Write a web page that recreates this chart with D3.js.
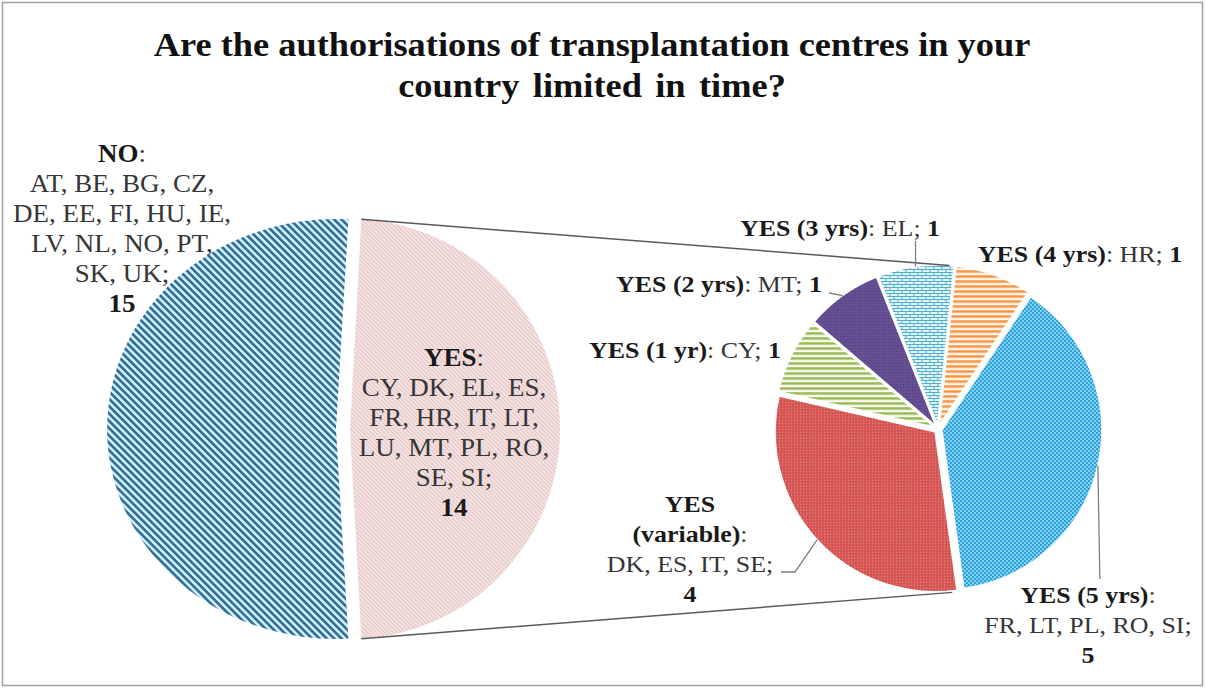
<!DOCTYPE html>
<html>
<head>
<meta charset="utf-8">
<script src="https://d3js.org/d3.v7.min.js"></script>
<style>
  body { margin: 0; background: #fff; }
  text { font-family: "Liberation Serif", "Times New Roman", serif; }
</style>
</head>
<body>
<script>

// data
var titleLines = ["Are the authorisations of transplantation centres in your", "country limited in time?"];

var mainCategories = ["NO", "YES"];
var mainValues = [15, 14];
var mainCountries = [
  ["AT", "BE", "BG", "CZ", "DE", "EE", "FI", "HU", "IE", "LV", "NL", "NO", "PT", "SK", "UK"],
  ["CY", "DK", "EL", "ES", "FR", "HR", "IT", "LT", "LU", "MT", "PL", "RO", "SE", "SI"]
];

var subCategories = ["1 yr", "2 yrs", "3 yrs", "4 yrs", "5 yrs", "variable"];
var subValues = [1, 1, 1, 1, 5, 4];
var subCountries = [["CY"], ["MT"], ["EL"], ["HR"], ["FR", "LT", "PL", "RO", "SI"], ["DK", "ES", "IT", "SE"]];

var width = 1205;
var height = 688;
var deg = Math.PI / 180;

var svg = d3.select("body").append("svg")
    .attr("width", width)
    .attr("height", height);

svg.append("rect")
    .attr("x", 2.5).attr("y", 2.5)
    .attr("width", width - 5).attr("height", height - 5)
    .attr("fill", "#fff")
    .attr("stroke", "#a0a0a0")
    .attr("stroke-width", 1.5);

// ---- patterns (excel style fills)
var defs = svg.append("defs");
var noStretch = 1.09;

function pattern(id, w, h, bg, tf) {
  var p = defs.append("pattern")
      .attr("id", id)
      .attr("patternUnits", "userSpaceOnUse")
      .attr("width", w).attr("height", h);
  if (tf) p.attr("patternTransform", tf);
  p.append("rect").attr("width", w).attr("height", h).attr("fill", bg);
  return p;
}

pattern("pNo", 5.2, 5.2, "#d3edf6", "scale(" + (1 / noStretch) + ",1) rotate(-45)")
  .append("rect").attr("width", 2.6).attr("height", 5.2).attr("fill", "#2f6f98");
pattern("pYes", 3, 3, "#f5e2e1", "rotate(-45)")
  .append("rect").attr("width", 1).attr("height", 3).attr("fill", "#dfc6c5");

pattern("p1", 5, 5, "#fbfdf4").append("rect").attr("width", 5).attr("height", 2.6).attr("fill", "#9bbb59");
var p2 = pattern("p2", 3, 3, "#6a5397");
p2.append("rect").attr("width", 1.5).attr("height", 1.5).attr("fill", "#4e3b79");
pattern("p3", 8, 6, "#e7f6fc").append("path")
    .attr("d", "M0,0.5H8M0,3.5H8M0.5,0V3.5M4.5,3.5V6")
    .attr("stroke", "#4bacc6").attr("stroke-width", 1).attr("fill", "none");
pattern("p4", 5, 5, "#fff8f1").append("rect").attr("width", 5).attr("height", 2.6).attr("fill", "#f79646");
var p5 = pattern("p5", 4, 4, "#7fdcf8");
p5.append("rect").attr("width", 2).attr("height", 2).attr("fill", "#2f95d4");
p5.append("rect").attr("x", 2).attr("y", 2).attr("width", 2).attr("height", 2).attr("fill", "#2f95d4");
var p6 = pattern("p6", 3, 3, "#d4524f");
p6.append("rect").attr("width", 1.2).attr("height", 1.2).attr("fill", "#e8928e");

var mainFills = ["url(#pNo)", "url(#pYes)"];
var subFills = ["url(#p1)", "url(#p2)", "url(#p3)", "url(#p4)", "url(#p5)", "url(#p6)"];

// ---- main pie
var mainCx = 343, mainCy = 429, mainR = 210, mainExplode = 7;
var total = d3.sum(mainValues);
// "other" slice (YES) centred on the right side
var mainStart = Math.PI / 2 + Math.PI * mainValues[1] / total;
var mainPie = d3.pie().sort(null).value(function(d) { return d; })
    .startAngle(mainStart).endAngle(mainStart + 2 * Math.PI);
var mainArcs = mainPie(mainValues);
var mainArc = d3.arc().innerRadius(0).outerRadius(mainR);

var mainG = svg.append("g").attr("id", "mainPie");
mainG.append("path")
    .attr("transform", "translate(" + (mainCx - mainExplode) + "," + mainCy + ") scale(" + noStretch + ",1)")
    .attr("d", mainArc(mainArcs[0]))
    .attr("fill", mainFills[0]);
var yesCx = mainCx + mainExplode;
mainG.append("path")
    .attr("transform", "translate(" + yesCx + "," + mainCy + ")")
    .attr("d", mainArc(mainArcs[1]))
    .attr("fill", mainFills[1]);

// ---- secondary pie
var subCx = 938, subCy = 429, subR = 160, subExplode = 4;
var subStart = -77.1 * deg;
var subPie = d3.pie().sort(null).value(function(d) { return d; })
    .startAngle(subStart).endAngle(subStart + 2 * Math.PI);
var subArcs = subPie(subValues);
var subArc = d3.arc().innerRadius(0).outerRadius(subR);

function polar(cx, cy, r, a) {
  return [cx + r * Math.sin(a), cy - r * Math.cos(a)];
}

var subG = svg.append("g").attr("id", "subPie");
subG.selectAll("path")
    .data(subArcs)
  .enter().append("path")
    .attr("transform", function(d) {
      var mid = (d.startAngle + d.endAngle) / 2;
      var o = polar(0, 0, subExplode, mid);
      return "translate(" + (subCx + o[0]) + "," + (subCy + o[1]) + ")";
    })
    .attr("d", subArc)
    .attr("fill", function(d, i) { return subFills[i]; })
    .attr("stroke", "#fff")
    .attr("stroke-width", 1.5);

// ---- connector lines between the pies
var yesArc = mainArcs[1];
var conn = [
  [polar(yesCx, mainCy, mainR, yesArc.startAngle), polar(subCx, subCy, subR + subExplode, 4 * deg)],
  [polar(yesCx, mainCy, mainR, yesArc.endAngle), polar(subCx, subCy, subR + subExplode, 175 * deg)]
];
svg.selectAll(".conn")
    .data(conn)
  .enter().append("line")
    .attr("class", "conn")
    .attr("x1", function(d) { return d[0][0]; })
    .attr("y1", function(d) { return d[0][1]; })
    .attr("x2", function(d) { return d[1][0]; })
    .attr("y2", function(d) { return d[1][1]; })
    .attr("stroke", "#5a5a5a")
    .attr("stroke-width", 1.5);

// ---- labels
var sx = 1.08;

function addLabel(x, y, lh, size, lines) {
  var t = svg.append("text")
      .attr("transform", "translate(" + x + "," + y + ") scale(" + sx + ",1)")
      .attr("text-anchor", "middle")
      .style("font-size", size + "px");
  lines.forEach(function(parts, i) {
    parts.forEach(function(p, j) {
      var ts = t.append("tspan").text(p[0])
          .style("font-weight", p[1] ? "bold" : "normal")
          .attr("fill", p[1] ? "#1a1a1a" : "#363636");
      if (j === 0) ts.attr("x", 0).attr("y", i * lh);
    });
  });
}

function countryLines(list, sizes) {
  var out = [], k = 0;
  sizes.forEach(function(n, i) {
    var chunk = list.slice(k, k + n).join(", ");
    k += n;
    out.push([[chunk + (i === sizes.length - 1 ? ";" : ","), 0]]);
  });
  return out;
}

// title
var title = svg.append("text")
    .attr("text-anchor", "middle")
    .attr("transform", "translate(592,56) scale(1.07,1)")
    .style("font-size", "34px")
    .style("font-weight", "bold")
    .attr("fill", "#111");
titleLines.forEach(function(s, i) {
  title.append("tspan").attr("x", 0).attr("y", i * 41)
      .style("word-spacing", i === 1 ? "4px" : "0px")
      .text(s);
});

// main pie labels
var mainLabelPos = [{x: 122, y: 162, wrap: [4, 5, 4, 2]}, {x: 454, y: 366, wrap: [4, 4, 4, 2]}];
mainCategories.forEach(function(c, i) {
  var pos = mainLabelPos[i];
  var lines = [[[c, 1], [":", 0]]]
      .concat(countryLines(mainCountries[i], pos.wrap))
      .concat([[[String(mainValues[i]), 1]]]);
  addLabel(pos.x, pos.y, 30, 25, lines);
});

// secondary pie labels
var subLabelPos = [
  {x: 685, y: 358, mode: "inline"},
  {x: 719, y: 292, mode: "inline", leader: [[829, 293]]},
  {x: 840, y: 236, mode: "inline", leader: "up"},
  {x: 1080, y: 262, mode: "inline"},
  {x: 1088, y: 603, mode: "block", leader: "down"},
  {x: 690, y: 512, mode: "split", leader: [[781, 572], [795, 572]]}
];
subCategories.forEach(function(c, i) {
  var pos = subLabelPos[i];
  var name = "YES (" + c + ")";
  var list = subCountries[i].join(", ") + ";";
  var v = String(subValues[i]);
  var lines;
  if (pos.mode === "inline") {
    lines = [[[name, 1], [": " + list + " ", 0], [v, 1]]];
  } else if (pos.mode === "block") {
    lines = [[[name, 1], [":", 0]], [[list, 0]], [[v, 1]]];
  } else {
    lines = [[["YES", 1]], [["(" + c + ")", 1], [":", 0]], [[list, 0]], [[v, 1]]];
  }
  addLabel(pos.x, pos.y, 30, 24, lines);

  if (pos.leader) {
    var d = subArcs[i];
    var mid = (d.startAngle + d.endAngle) / 2;
    var end = polar(subCx, subCy, subR + subExplode, mid);
    var pts;
    if (pos.leader === "up") pts = [[end[0], pos.y + 5], end];
    else if (pos.leader === "down") pts = [[end[0] + 2, pos.y - 24], end];
    else pts = pos.leader.concat([end]);
    svg.append("path")
        .attr("d", d3.line()(pts))
        .attr("fill", "none")
        .attr("stroke", "#7f7f7f")
        .attr("stroke-width", 1.3);
  }
});

</script>
</body>
</html>
